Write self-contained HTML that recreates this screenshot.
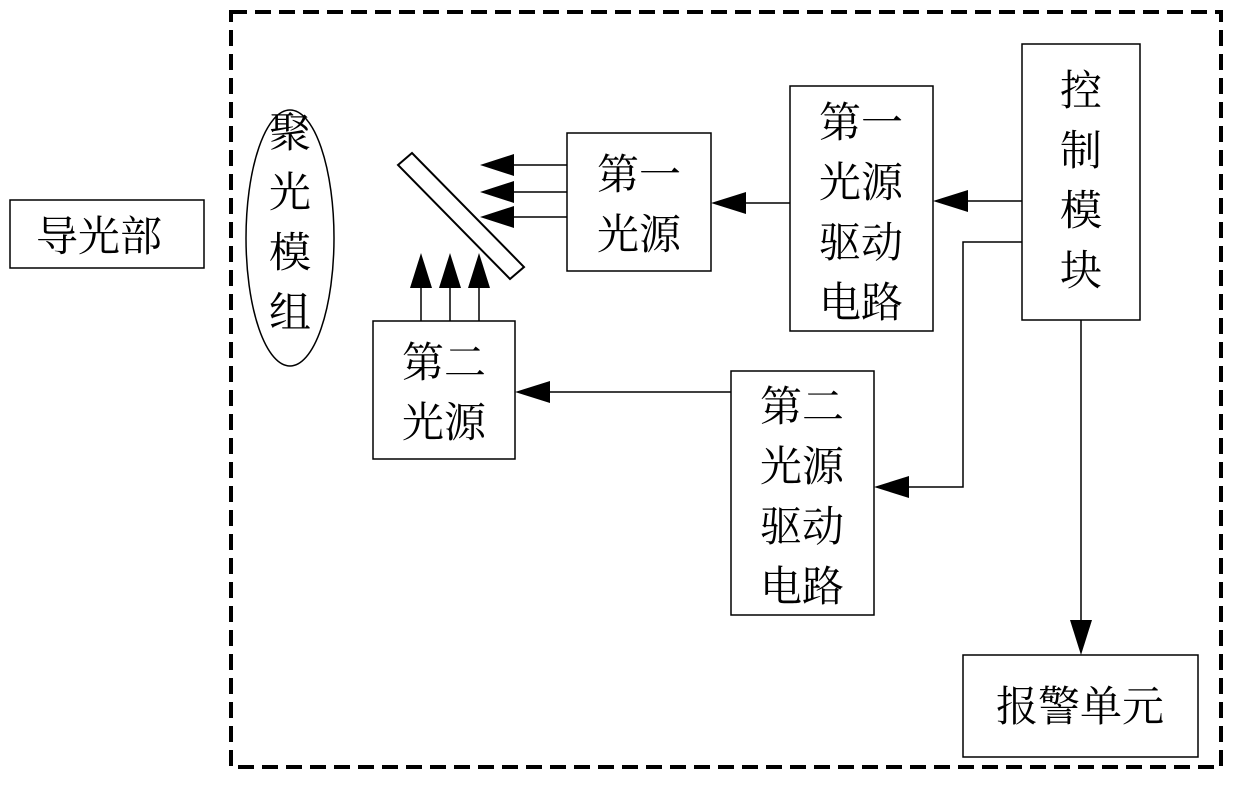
<!DOCTYPE html>
<html><head><meta charset="utf-8"><style>
body{margin:0;background:#fff;}
svg text{font-family:"Liberation Serif","Noto Serif CJK SC",serif;font-size:42px;fill:#000;}
</style></head><body>
<svg width="1233" height="783" xmlns="http://www.w3.org/2000/svg">
<rect x="0" y="0" width="1233" height="783" fill="#fff"/>
<rect x="231" y="12" width="990" height="755" fill="none" stroke="#000" stroke-width="4" stroke-dasharray="16,8"/>
<g fill="none" stroke="#000" stroke-width="1.5">
<rect x="10" y="200" width="194" height="68"/>
<ellipse cx="290" cy="238" rx="44" ry="128"/>
<rect x="567" y="133" width="144" height="138"/>
<rect x="790" y="86" width="143" height="245"/>
<rect x="1022" y="44" width="118" height="276"/>
<rect x="373" y="321" width="142" height="138"/>
<rect x="731" y="371" width="143" height="244"/>
<rect x="963" y="655" width="235" height="102"/>
<polygon points="398,165 412,153 524,267 510,279" stroke-width="2"/>
<line x1="514" y1="165" x2="567" y2="165"/>
<line x1="514" y1="192" x2="567" y2="192"/>
<line x1="514" y1="217" x2="567" y2="217"/>
<line x1="421" y1="288" x2="421" y2="321"/>
<line x1="450" y1="288" x2="450" y2="321"/>
<line x1="479" y1="288" x2="479" y2="321"/>
<line x1="1022" y1="201" x2="968" y2="201"/>
<line x1="790" y1="203" x2="746" y2="203"/>
<line x1="731" y1="392" x2="550" y2="392"/>
<polyline points="1022,242 963,242 963,487 909,487"/>
<line x1="1081" y1="320" x2="1081" y2="620"/>
</g>
<g fill="#000">
<polygon points="480,165 514,154 514,176"/>
<polygon points="480,192 514,181 514,203"/>
<polygon points="480,217 514,206 514,228"/>
<polygon points="421,253 410,288 432,288"/>
<polygon points="450,253 439,288 461,288"/>
<polygon points="479,253 468,288 490,288"/>
<polygon points="933,201 968,190 968,212"/>
<polygon points="711,203 746,192 746,214"/>
<polygon points="515,392 550,381 550,403"/>
<polygon points="874,487 909,476 909,498"/>
<polygon points="1081,655 1070,620 1092,620"/>
</g>
<text x="36" y="251">导光部</text>
<g text-anchor="middle">
<text x="290" y="147">聚</text><text x="290" y="207">光</text><text x="290" y="267">模</text><text x="290" y="327">组</text>
<text x="639" y="189">第一</text><text x="639" y="249">光源</text>
<text x="861" y="137">第一</text><text x="861" y="197">光源</text><text x="861" y="257">驱动</text><text x="861" y="317">电路</text>
<text x="1081" y="105">控</text><text x="1081" y="165">制</text><text x="1081" y="225">模</text><text x="1081" y="285">块</text>
<text x="444" y="377">第二</text><text x="444" y="437">光源</text>
<text x="802" y="421">第二</text><text x="802" y="481">光源</text><text x="802" y="541">驱动</text><text x="802" y="601">电路</text>
<text x="1080" y="721">报警单元</text>
</g>
</svg>
</body></html>
